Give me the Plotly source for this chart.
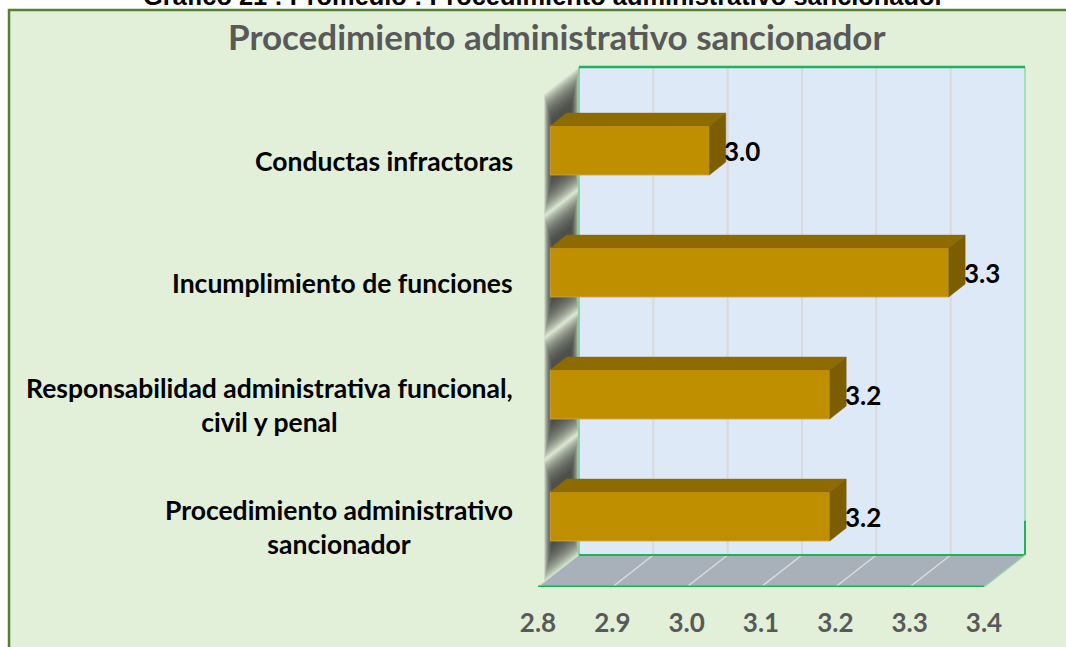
import plotly.graph_objects as go

# ---- data ----
categories = ["Procedimiento administrativo<br>sancionador",
              "Responsabilidad administrativa funcional,<br>civil y penal",
              "Incumplimiento de funciones",
              "Conductas infractoras"]
values = [3.176, 3.176, 3.336, 3.014]
x_ticks = [2.8, 2.9, 3.0, 3.1, 3.2, 3.3, 3.4]
chart_title = "Procedimiento administrativo sancionador"
page_heading = "Gráfico 21 : Promedio : Procedimiento administrativo sancionador"

# ---- geometry of the oblique projection ----
W, H = 1066, 647
X0_PX, X1_PX = 538.0, 984.0      # front floor edge
Y0_PX, Y1_PX = 587.0, 99.0       # front plane bottom/top
XMIN, XMAX = 2.8, 3.4
YMIN, YMAX = -0.5, 3.5
DEPTH_X_PX, DEPTH_Y_PX = 41.0, 32.0
UX = (XMAX - XMIN) / (X1_PX - X0_PX)
UY = (YMAX - YMIN) / (Y0_PX - Y1_PX)
BAR_D0 = 0.30
BAR_H = 49 * UY
PAD_X = (DEPTH_X_PX + 3) * UX
PAD_Y = (DEPTH_Y_PX + 3) * UY


def project(v, c, d):
    return v + d * DEPTH_X_PX * UX, c + d * DEPTH_Y_PX * UY


def poly(points, fill, opacity=1.0, line=None):
    xs, ys = zip(*[project(*p) for p in points])
    return go.Scatter(x=list(xs) + [xs[0]], y=list(ys) + [ys[0]], mode="lines", fill="toself",
                      fillcolor=fill, opacity=opacity,
                      line=dict(width=1 if line else 0, color=line or fill),
                      hoverinfo="skip", showlegend=False, xaxis="x", yaxis="y", cliponaxis=False)


def seg(p, q, color, width):
    a, b = project(*p), project(*q)
    return go.Scatter(x=[a[0], b[0]], y=[a[1], b[1]], mode="lines", line=dict(color=color, width=width),
                      hoverinfo="skip", showlegend=False, xaxis="x", yaxis="y", cliponaxis=False)


fig = go.Figure()

# soft shadow on the side wall, built from nested translucent layers
LAYERS = 28
for c in range(len(categories)):
    for k in range(LAYERS):
        f = k / (LAYERS - 1)
        h = 0.50 - 0.26 * f
        d0 = 0.15 + 0.20 * f
        d1 = 1.0 - 0.20 * f
        fig.add_trace(poly([(XMIN, c - h, d0), (XMIN, c - h, d1), (XMIN, c + h, d1), (XMIN, c + h, d0)],
                           "#2F2F2F", opacity=0.06))

# back wall, floor
fig.add_trace(poly([(XMIN, YMIN, 1), (XMAX, YMIN, 1), (XMAX, YMAX, 1), (XMIN, YMAX, 1)], "#DEE9F8"))
fig.add_trace(poly([(XMIN, YMIN, 0), (XMAX, YMIN, 0), (XMAX, YMIN, 1), (XMIN, YMIN, 1)], "#A8B1BA"))
for t in x_ticks[1:-1]:
    fig.add_trace(seg((t, YMIN, 1), (t, YMAX, 1), "#D9D9D9", 2))
    fig.add_trace(seg((t, YMIN, 0), (t, YMIN, 1), "#D9DCDF", 1.5))

# wall edges
LIGHT, GREEN = "#6CCB94", "#1FB25A"
fig.add_trace(seg((XMIN, YMIN, 1), (XMIN, YMAX, 1), LIGHT, 1.5))
fig.add_trace(seg((XMAX, YMIN, 1), (XMAX, YMAX, 1), "#8FD8AC", 1.5))
fig.add_trace(seg((XMAX, YMIN, 1), (XMAX, YMIN + 0.28, 1), GREEN, 2))
fig.add_trace(seg((XMIN, YMAX, 1), (XMAX, YMAX, 1), GREEN, 2.5))
fig.add_trace(seg((XMIN, YMIN, 1), (XMAX, YMIN, 1), GREEN, 2))
fig.add_trace(seg((XMAX, YMIN, 0), (XMAX, YMIN, 1), "#8FD8AC", 1.2))
fig.add_trace(seg((XMIN, YMIN, 0), (XMIN, YMIN, 1), "#B5E2C5", 1))
fig.add_trace(seg((XMIN, YMIN, 0), (XMAX, YMIN, 0), GREEN, 3))

# bar side and top faces
DARK_TOP, DARK_SIDE = "#8E6B00", "#7C5E00"
for c, v in zip(range(len(categories)), values):
    for pts, col in (
        ([(XMIN, c + BAR_H / 2, 0), (v, c + BAR_H / 2, 0), (v, c + BAR_H / 2, 0.4), (XMIN, c + BAR_H / 2, 0.4)], DARK_TOP),
        ([(v, c - BAR_H / 2, 0), (v, c + BAR_H / 2, 0), (v, c + BAR_H / 2, 0.4), (v, c - BAR_H / 2, 0.4)], DARK_SIDE),
    ):
        xs, ys = zip(*[(p[0] + p[2] * DEPTH_X_PX * UX, p[1] + p[2] * DEPTH_Y_PX * UY) for p in pts])
        fig.add_trace(go.Scatter(x=list(xs) + [xs[0]], y=list(ys) + [ys[0]], mode="lines", fill="toself",
                                 fillcolor=col, line=dict(width=0.5, color=col), hoverinfo="skip",
                                 showlegend=False, xaxis="x2", yaxis="y2", cliponaxis=False))

# bar front faces
fig.add_trace(go.Bar(x=[v - XMIN for v in values], base=XMIN, y=list(range(len(categories))), orientation="h",
                     width=BAR_H, marker=dict(color="#BF8F00", line=dict(color="#C9A040", width=1)),
                     showlegend=False, xaxis="x2", yaxis="y2", hoverinfo="skip"))

sx = BAR_D0 * DEPTH_X_PX * UX
sy = BAR_D0 * DEPTH_Y_PX * UY
LABEL_FONT = "Lato, Carlito, Calibri, sans-serif"

annotations = []
for c, (name, v) in enumerate(zip(categories, values)):
    annotations.append(dict(x=XMIN, y=c, xref="x", yref="y", text=f"<b>{name}</b>", showarrow=False,
                            xanchor="right", yanchor="middle", align="center", xshift=-23, yshift=-1,
                            font=dict(family=LABEL_FONT, size=26.5, color="#000000")))
    annotations.append(dict(x=v, y=c, xref="x2", yref="y2", text=f"<b>{v:.1f}</b>", showarrow=False,
                            xanchor="left", yanchor="middle", xshift=13, yshift=-1,
                            font=dict(family=LABEL_FONT, size=26, color="#000000")))
annotations.append(dict(x=556 / W, y=1 - 36 / H, xref="paper", yref="paper", text=f"<b>{chart_title}</b>",
                        showarrow=False, xanchor="center", yanchor="middle",
                        font=dict(family=LABEL_FONT, size=35, color="#595959")))
annotations.append(dict(x=544 / W, y=1 - 0 / H, xref="paper", yref="paper", text=f"<b>{page_heading}</b>",
                        showarrow=False, xanchor="center", yanchor="middle", yshift=4,
                        font=dict(family="Liberation Sans, Arial, sans-serif", size=25.4, color="#000000")))

x_end_px = X1_PX + DEPTH_X_PX + 3
y_end_px = Y1_PX - DEPTH_Y_PX - 3
xdom = [X0_PX / W, x_end_px / W]
ydom = [1 - Y0_PX / H, 1 - y_end_px / H]
x_range = [XMIN, XMAX + PAD_X]
y_range = [YMIN, YMAX + PAD_Y]
fig.update_layout(
    template="none",
    width=W, height=H, margin=dict(l=0, r=0, t=0, b=0, autoexpand=False),
    paper_bgcolor="#FFFFFF", plot_bgcolor="rgba(0,0,0,0)",
    barmode="overlay", showlegend=False, annotations=annotations,
    shapes=[dict(type="rect", xref="paper", yref="paper", x0=9 / W, x1=1.01, y0=-0.01, y1=1 - 10 / H,
                 fillcolor="#E2EFD9", line=dict(color="#548235", width=2.5), layer="below")],
    xaxis=dict(domain=xdom, range=x_range, tickvals=x_ticks, ticktext=[f"{t:.1f}" for t in x_ticks],
               showgrid=False, zeroline=False, showline=False, ticks="", ticklabelstandoff=18, automargin=False,
               tickfont=dict(family=LABEL_FONT, size=26, color="#595959", weight="bold"), fixedrange=True),
    yaxis=dict(domain=ydom, range=y_range, visible=False, fixedrange=True, automargin=False),
    xaxis2=dict(domain=xdom, range=[x_range[0] - sx, x_range[1] - sx], overlaying="x", visible=False,
                fixedrange=True, anchor="y2", automargin=False),
    yaxis2=dict(domain=ydom, range=[y_range[0] - sy, y_range[1] - sy], overlaying="y", visible=False,
                fixedrange=True, anchor="x2", automargin=False),
)
fig.write_html("out.html", config=dict(displayModeBar=False),
               post_script="document.body.style.margin='0';document.body.style.overflow='hidden';")
